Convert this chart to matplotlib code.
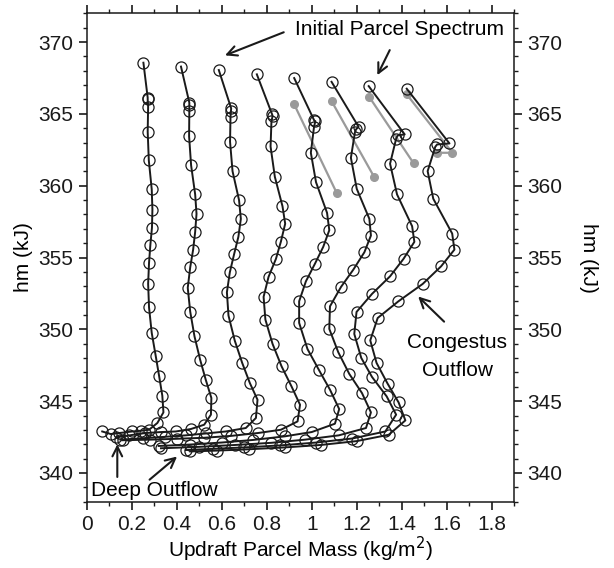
import matplotlib
matplotlib.use("Agg")
import matplotlib.pyplot as plt
from matplotlib.ticker import MultipleLocator

plt.rcParams['font.family'] = ['Liberation Sans', 'DejaVu Sans']

# Parcel trajectories: updraft parcel mass (kg/m^2) vs moist static energy hm (kJ)
mass_1 = [0.252, 0.271, 0.271, 0.273, 0.271, 0.276, 0.289, 0.292, 0.290, 0.283, 0.277, 0.273, 0.277,
          0.289, 0.307, 0.322, 0.336, 0.341, 0.314, 0.277, 0.240, 0.203, 0.144, 0.107, 0.069]
hm_1 = [368.56, 366.13, 366.01, 365.50, 363.76, 361.76, 359.74, 358.34, 357.07, 355.90, 354.63, 353.17, 351.52,
        349.75, 348.12, 346.73, 345.38, 344.22, 343.48, 343.01, 342.94, 342.89, 342.78, 342.71, 342.89]

mass_2 = [0.419, 0.456, 0.456, 0.456, 0.455, 0.464, 0.482, 0.488, 0.482, 0.473, 0.460, 0.449, 0.460,
          0.479, 0.504, 0.529, 0.554, 0.552, 0.522, 0.463, 0.396, 0.33, 0.26, 0.19, 0.13]
hm_2 = [368.29, 365.78, 365.59, 365.19, 363.43, 361.41, 359.39, 358.04, 356.79, 355.55, 354.32, 352.89, 351.23,
        349.51, 347.89, 346.49, 345.22, 344.06, 343.36, 343.06, 342.89, 342.85, 342.78, 342.62, 342.48]

mass_3 = [0.587, 0.642, 0.641, 0.639, 0.637, 0.648, 0.677, 0.685, 0.674, 0.655, 0.636, 0.623, 0.630,
          0.658, 0.691, 0.725, 0.759, 0.752, 0.707, 0.618, 0.53, 0.44, 0.35, 0.25, 0.15]
hm_3 = [368.05, 365.38, 365.19, 364.80, 363.06, 361.01, 358.99, 357.69, 356.44, 355.23, 353.97, 352.58, 350.96,
        349.21, 347.66, 346.26, 345.10, 343.83, 343.13, 342.89, 342.75, 342.62, 342.52, 342.42, 342.32]

mass_4 = [0.756, 0.824, 0.826, 0.821, 0.817, 0.836, 0.870, 0.882, 0.863, 0.841, 0.808, 0.786, 0.794,
          0.826, 0.866, 0.910, 0.948, 0.937, 0.863, 0.76, 0.64, 0.52, 0.40, 0.28, 0.16]
hm_4 = [367.75, 364.96, 364.84, 364.49, 362.73, 360.62, 358.57, 357.35, 356.11, 354.91, 353.65, 352.26, 350.68,
        348.98, 347.42, 346.03, 344.75, 343.59, 343.01, 342.78, 342.58, 342.45, 342.38, 342.32, 342.28]

mass_5 = [0.922, 1.011, 1.016, 1.010, 0.996, 1.019, 1.068, 1.078, 1.051, 1.014, 0.974, 0.944, 0.944,
          0.981, 1.033, 1.081, 1.122, 1.103, 1.00, 0.88, 0.74, 0.60, 0.46, 0.32]
hm_5 = [367.49, 364.54, 364.49, 364.08, 362.29, 360.24, 358.11, 356.90, 355.74, 354.56, 353.34, 351.95, 350.45,
        348.63, 347.14, 345.80, 344.45, 343.43, 342.85, 342.55, 342.30, 342.12, 341.98, 341.88]

mass_6 = [1.088, 1.208, 1.197, 1.192, 1.174, 1.200, 1.256, 1.263, 1.234, 1.185, 1.130, 1.081, 1.078,
          1.118, 1.167, 1.223, 1.263, 1.241, 1.12, 0.97, 0.82, 0.66, 0.50, 0.33]
hm_6 = [367.23, 364.10, 363.92, 363.73, 361.94, 359.78, 357.69, 356.53, 355.37, 354.16, 352.95, 351.60, 350.03,
        348.40, 346.89, 345.57, 344.22, 343.13, 342.62, 342.32, 342.10, 341.95, 341.82, 341.72]

mass_7 = [1.253, 1.413, 1.382, 1.375, 1.348, 1.379, 1.446, 1.456, 1.408, 1.348, 1.268, 1.199, 1.189,
          1.220, 1.268, 1.333, 1.375, 1.327, 1.18, 1.02, 0.86, 0.70, 0.56, 0.44]
hm_7 = [366.93, 363.57, 363.50, 363.27, 361.53, 359.39, 357.18, 356.09, 354.91, 353.69, 352.47, 351.21, 349.68,
        348.01, 346.68, 345.33, 344.06, 342.89, 342.40, 342.12, 341.92, 341.78, 341.68, 341.60]

mass_8 = [1.422, 1.612, 1.557, 1.549, 1.515, 1.540, 1.624, 1.634, 1.575, 1.493, 1.385, 1.293, 1.260,
          1.288, 1.337, 1.386, 1.416, 1.342, 1.20, 1.04, 0.88, 0.72, 0.58, 0.46]
hm_8 = [366.75, 362.94, 362.87, 362.71, 361.01, 359.09, 356.67, 355.55, 354.39, 353.16, 351.95, 350.79, 349.23,
        347.66, 346.22, 344.91, 343.66, 342.66, 342.22, 341.95, 341.78, 341.65, 341.56, 341.50]

# Initial-spectrum reference segments (grey)
grey_mass_1 = [0.922, 1.111]
grey_hm_1 = [365.66, 359.49]
grey_mass_2 = [1.088, 1.278]
grey_hm_2 = [365.89, 360.59]
grey_mass_3 = [1.256, 1.453]
grey_hm_3 = [366.17, 361.55]
grey_mass_4 = [1.422, 1.625, 1.557]
grey_hm_4 = [366.36, 362.29, 362.29]

curves = [(mass_1, hm_1), (mass_2, hm_2), (mass_3, hm_3), (mass_4, hm_4),
          (mass_5, hm_5), (mass_6, hm_6), (mass_7, hm_7), (mass_8, hm_8)]
grey_curves = [(grey_mass_1, grey_hm_1), (grey_mass_2, grey_hm_2),
               (grey_mass_3, grey_hm_3), (grey_mass_4, grey_hm_4)]

FS = 15

fig = plt.figure(figsize=(6.14, 5.68), dpi=100)
ax = fig.add_axes([0.1412, 0.1167, 0.6964, 0.8599])

for gx, gy in grey_curves:
    ax.plot(gx, gy, color='#9a9a9a', lw=1.6, marker='o', ms=5.5,
            markerfacecolor='#9a9a9a', markeredgecolor='#9a9a9a', zorder=2)

for cx, cy in curves:
    ax.plot(cx, cy, color='#1a1a1a', lw=1.4, marker='o', ms=8,
            markerfacecolor='none', markeredgecolor='#1a1a1a', markeredgewidth=0.9, zorder=3)

ax.set_xlim(0, 1.9)
ax.set_ylim(338, 372)
ax.xaxis.set_minor_locator(MultipleLocator(0.1))
ax.yaxis.set_major_locator(MultipleLocator(5))
ax.yaxis.set_minor_locator(MultipleLocator(1))
ax.set_xticks([0, 0.2, 0.4, 0.6, 0.8, 1.0, 1.2, 1.4, 1.6, 1.8])
ax.set_xticklabels(['0', '0.2', '0.4', '0.6', '0.8', '1', '1.2', '1.4', '1.6', '1.8'])

ax.tick_params(which='both', direction='out', top=True, right=True,
               labelright=True, labelsize=FS, colors='#1a1a1a')
ax.tick_params(which='major', length=6, width=1.2)
ax.tick_params(which='minor', length=3, width=1.0)
for s in ax.spines.values():
    s.set_linewidth(1.1)
    s.set_color('#1a1a1a')

ax.set_xlabel('Updraft Parcel Mass (kg/m$^2$)', fontsize=FS, labelpad=1)
ax.set_ylabel('hm (kJ)', fontsize=FS, labelpad=4)
ax2 = ax.secondary_yaxis('right')
ax2.set_yticks([])
ax2.spines['right'].set_visible(False)
ax2.set_ylabel('hm (kJ)', fontsize=FS, rotation=270, labelpad=60)

arrow_kw = dict(arrowstyle='->,head_length=0.7,head_width=0.35', color='#1a1a1a', lw=1.5)
ax.text(0.927, 370.88, 'Initial Parcel Spectrum', fontsize=FS, ha='left', va='center')
ax.annotate('', xy=(0.603, 369.0), xytext=(0.887, 370.75), arrowprops=arrow_kw)
ax.annotate('', xy=(1.286, 367.52), xytext=(1.352, 369.61), arrowprops=arrow_kw)

ax.text(1.647, 348.1, 'Congestus\nOutflow', fontsize=FS, ha='center', va='center', linespacing=1.55)
ax.annotate('', xy=(1.464, 352.42), xytext=(1.597, 350.40), arrowprops=arrow_kw)

ax.text(0.018, 338.75, 'Deep Outflow', fontsize=FS, ha='left', va='center')
ax.annotate('', xy=(0.136, 342.19), xytext=(0.136, 339.53), arrowprops=arrow_kw)
ax.annotate('', xy=(0.411, 341.27), xytext=(0.270, 339.41), arrowprops=arrow_kw)

fig.savefig('out.png', dpi=100)
